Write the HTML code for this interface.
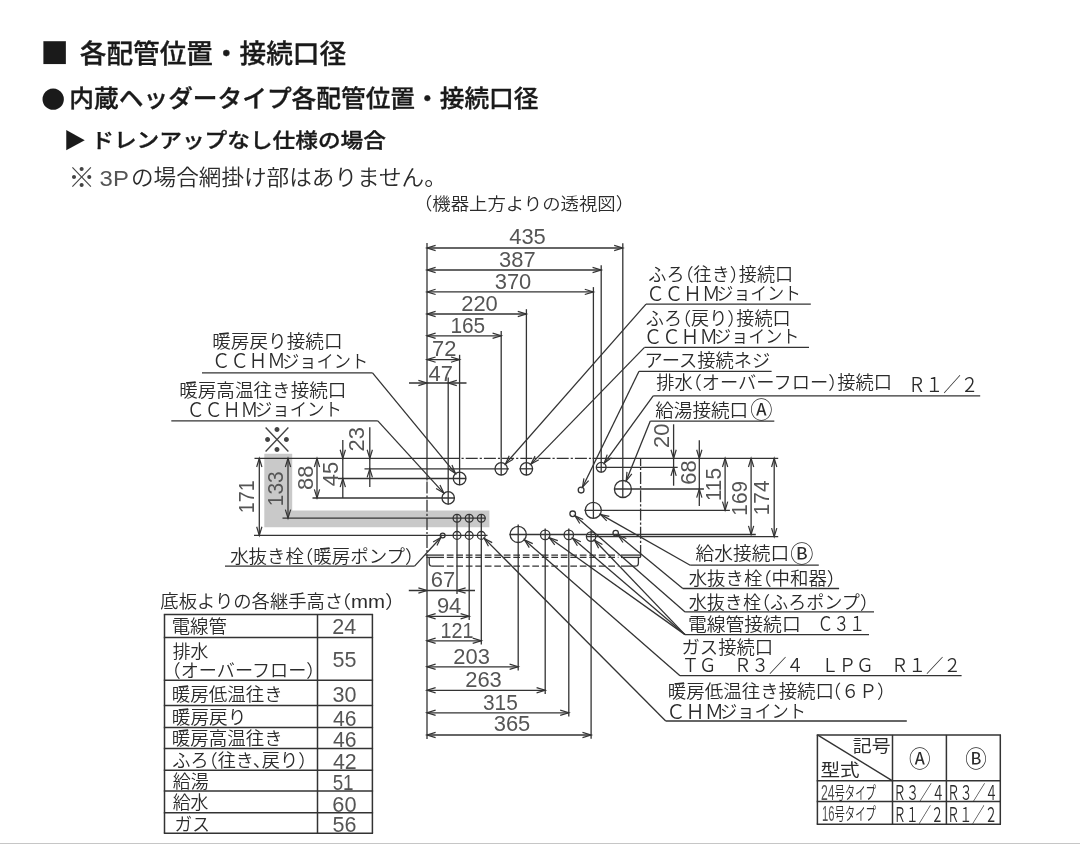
<!DOCTYPE html>
<html lang="ja">
<head>
<meta charset="utf-8">
<title>各配管位置・接続口径</title>
<style>
html,body{margin:0;padding:0;background:#fff;}
body{width:1080px;height:844px;overflow:hidden;position:relative;font-family:"Liberation Sans","Noto Sans CJK JP",sans-serif;}
svg{display:block;position:absolute;left:0;top:0;will-change:transform;}
svg text{font-family:"Liberation Sans","Noto Sans CJK JP",sans-serif;fill:#2b2b2b;stroke:none;white-space:pre;}
svg text.h{font-weight:500;fill:#1a1a1a;stroke:#1a1a1a;stroke-width:0.35px;stroke-linejoin:round;}
svg text.h0{font-weight:500;fill:#1a1a1a;}
svg text.l{font-weight:350;font-feature-settings:"halt";}
svg text.t{font-weight:100;fill:#444;}
svg text.r{font-weight:400;}
svg text.n{font-weight:400;fill:#555;}
svg .g{fill:none;stroke:#333;stroke-linecap:butt;stroke-linejoin:miter;}
</style>
</head>
<body>
<svg width="1080" height="844" viewBox="0 0 1080 844">
<path d="M264.3 453.8H292.2V510.4H489.4V527.2H264.3Z" fill="#c9c9c9"/>
<rect x="0" y="843" width="1080" height="1" fill="#c6c6c6"/>
<text x="40.41" y="67.19" class="h0" font-size="47.3" textLength="28.11" lengthAdjust="spacingAndGlyphs">■</text>
<text x="79.80" y="63.26" class="h" font-size="26.4" textLength="266.23" lengthAdjust="spacingAndGlyphs">各配管位置・接続口径</text>
<text x="38.22" y="112.74" class="h0" font-size="49.6" textLength="30.06" lengthAdjust="spacingAndGlyphs">●</text>
<text x="69.38" y="107.44" class="h" font-size="24.4" textLength="469.12" lengthAdjust="spacingAndGlyphs">内蔵ヘッダータイプ各配管位置・接続口径</text>
<text x="63.47" y="148.11" class="h0" font-size="21.6" textLength="22.72" lengthAdjust="spacingAndGlyphs">▶</text>
<text x="91.23" y="148.22" class="h" font-size="20.7" textLength="294.73" lengthAdjust="spacingAndGlyphs">ドレンアップなし仕様の場合</text>
<text x="68.25" y="186.91" class="t" font-size="26.6" textLength="26.81" lengthAdjust="spacingAndGlyphs">※</text>
<text x="99.64" y="185.76" class="n" font-size="22.2" textLength="29.23" lengthAdjust="spacingAndGlyphs">3P</text>
<text x="130.97" y="185.41" class="l" font-size="21.9" textLength="304.53" lengthAdjust="spacingAndGlyphs">の場合網掛け部はありません。</text>
<text x="423.13" y="210.18" class="l" font-size="17.4" textLength="201.75" lengthAdjust="spacingAndGlyphs">（機器上方よりの透視図）</text>
<g class="g">
<line x1="459.50" y1="458.40" x2="592.50" y2="458.40" stroke-width="1.3" stroke-dasharray="12 2 2.2 2" stroke-dashoffset="12"/>
<line x1="427.00" y1="481.50" x2="427.00" y2="555.10" stroke-width="1.3" stroke-dasharray="12 2 2.2 2"/>
<line x1="640.60" y1="458.40" x2="640.60" y2="557.00" stroke-width="1.3" stroke-dasharray="12 2 2.2 2" stroke-dashoffset="4.5"/>
<line x1="425.50" y1="555.10" x2="444.00" y2="555.10" stroke-width="1.3"/>
<line x1="446.80" y1="555.10" x2="618.50" y2="555.10" stroke-width="1.3" stroke-dasharray="6.7 2.8"/>
<line x1="621.00" y1="555.10" x2="641.20" y2="555.10" stroke-width="1.3"/>
<line x1="426.30" y1="557.40" x2="444.00" y2="557.40" stroke-width="1.3"/>
<line x1="446.80" y1="557.40" x2="618.50" y2="557.40" stroke-width="1.3" stroke-dasharray="6.7 2.8"/>
<line x1="621.00" y1="557.40" x2="640.80" y2="557.40" stroke-width="1.3"/>
<path d="M429.2 557.4V562.9Q429.2 566.1 432.4 566.1H444" stroke-width="1.3"/>
<path d="M638.4 557.4V562.9Q638.4 566.1 635.2 566.1H621" stroke-width="1.3"/>
<line x1="446.80" y1="566.10" x2="618.50" y2="566.10" stroke-width="1.3" stroke-dasharray="6.7 2.8"/>
<circle cx="459.60" cy="478.50" r="6.30" stroke-width="1.3"/>
<circle cx="448.20" cy="497.90" r="6.20" stroke-width="1.3"/>
<circle cx="501.20" cy="468.80" r="6.20" stroke-width="1.3"/>
<circle cx="526.40" cy="468.80" r="6.20" stroke-width="1.3"/>
<circle cx="601.20" cy="467.30" r="4.90" stroke-width="1.3"/>
<circle cx="581.10" cy="490.10" r="2.90" stroke-width="1.3"/>
<circle cx="622.90" cy="489.00" r="8.50" stroke-width="1.3"/>
<circle cx="593.30" cy="510.30" r="8.00" stroke-width="1.3"/>
<circle cx="572.70" cy="513.80" r="2.80" stroke-width="1.3"/>
<circle cx="615.70" cy="533.10" r="2.70" stroke-width="1.3"/>
<circle cx="442.70" cy="535.50" r="2.40" stroke-width="1.3"/>
<circle cx="457.00" cy="518.20" r="3.90" stroke-width="1.3"/>
<circle cx="469.20" cy="518.20" r="3.90" stroke-width="1.3"/>
<circle cx="481.30" cy="518.20" r="3.90" stroke-width="1.3"/>
<circle cx="457.00" cy="535.40" r="3.90" stroke-width="1.3"/>
<circle cx="469.20" cy="535.40" r="3.90" stroke-width="1.3"/>
<circle cx="481.30" cy="535.40" r="3.90" stroke-width="1.3"/>
<circle cx="518.20" cy="534.40" r="8.10" stroke-width="1.3"/>
<circle cx="545.20" cy="534.90" r="4.70" stroke-width="1.3"/>
<circle cx="568.80" cy="534.90" r="4.70" stroke-width="1.3"/>
<circle cx="591.10" cy="536.60" r="4.70" stroke-width="1.3"/>
<line x1="427.00" y1="243.00" x2="427.00" y2="480.50" stroke-width="1.3"/>
<line x1="427.00" y1="248.00" x2="622.80" y2="248.00" stroke-width="1.3"/>
<polyline points="435.61,245.37 427.00,248.00 435.61,250.63" stroke-width="1.2"/>
<polyline points="614.19,250.63 622.80,248.00 614.19,245.37" stroke-width="1.2"/>
<line x1="622.80" y1="243.20" x2="622.80" y2="497.60" stroke-width="1.3"/>
<line x1="427.00" y1="270.00" x2="601.20" y2="270.00" stroke-width="1.3"/>
<polyline points="435.61,267.37 427.00,270.00 435.61,272.63" stroke-width="1.2"/>
<polyline points="592.59,272.63 601.20,270.00 592.59,267.37" stroke-width="1.2"/>
<line x1="601.20" y1="265.20" x2="601.20" y2="472.50" stroke-width="1.3"/>
<line x1="427.00" y1="291.90" x2="593.40" y2="291.90" stroke-width="1.3"/>
<polyline points="435.61,289.27 427.00,291.90 435.61,294.53" stroke-width="1.2"/>
<polyline points="584.79,294.53 593.40,291.90 584.79,289.27" stroke-width="1.2"/>
<line x1="593.40" y1="287.10" x2="593.40" y2="518.50" stroke-width="1.3"/>
<line x1="427.00" y1="314.00" x2="526.40" y2="314.00" stroke-width="1.3"/>
<polyline points="435.61,311.37 427.00,314.00 435.61,316.63" stroke-width="1.2"/>
<polyline points="517.79,316.63 526.40,314.00 517.79,311.37" stroke-width="1.2"/>
<line x1="526.40" y1="309.20" x2="526.40" y2="475.30" stroke-width="1.3"/>
<line x1="427.00" y1="335.80" x2="501.20" y2="335.80" stroke-width="1.3"/>
<polyline points="435.61,333.17 427.00,335.80 435.61,338.43" stroke-width="1.2"/>
<polyline points="492.59,338.43 501.20,335.80 492.59,333.17" stroke-width="1.2"/>
<line x1="501.20" y1="331.00" x2="501.20" y2="475.30" stroke-width="1.3"/>
<line x1="427.00" y1="359.60" x2="459.60" y2="359.60" stroke-width="1.3"/>
<polyline points="435.61,356.97 427.00,359.60 435.61,362.23" stroke-width="1.2"/>
<polyline points="450.99,362.23 459.60,359.60 450.99,356.97" stroke-width="1.2"/>
<line x1="459.60" y1="354.80" x2="459.60" y2="485.20" stroke-width="1.3"/>
<line x1="409.00" y1="383.00" x2="466.50" y2="383.00" stroke-width="1.3"/>
<polyline points="418.39,385.63 427.00,383.00 418.39,380.37" stroke-width="1.2"/>
<polyline points="456.81,380.37 448.20,383.00 456.81,385.63" stroke-width="1.2"/>
<line x1="448.20" y1="377.50" x2="448.20" y2="504.40" stroke-width="1.3"/>
<line x1="427.00" y1="555.10" x2="427.00" y2="739.00" stroke-width="1.3"/>
<line x1="427.00" y1="616.30" x2="469.20" y2="616.30" stroke-width="1.3"/>
<polyline points="435.61,613.67 427.00,616.30 435.61,618.93" stroke-width="1.2"/>
<polyline points="460.59,618.93 469.20,616.30 460.59,613.67" stroke-width="1.2"/>
<line x1="469.20" y1="514.00" x2="469.20" y2="620.10" stroke-width="1.3"/>
<line x1="427.00" y1="640.80" x2="481.30" y2="640.80" stroke-width="1.3"/>
<polyline points="435.61,638.17 427.00,640.80 435.61,643.43" stroke-width="1.2"/>
<polyline points="472.69,643.43 481.30,640.80 472.69,638.17" stroke-width="1.2"/>
<line x1="481.30" y1="514.00" x2="481.30" y2="644.60" stroke-width="1.3"/>
<line x1="427.00" y1="666.80" x2="518.20" y2="666.80" stroke-width="1.3"/>
<polyline points="435.61,664.17 427.00,666.80 435.61,669.43" stroke-width="1.2"/>
<polyline points="509.59,669.43 518.20,666.80 509.59,664.17" stroke-width="1.2"/>
<line x1="518.20" y1="524.50" x2="518.20" y2="670.60" stroke-width="1.3"/>
<line x1="427.00" y1="690.30" x2="545.20" y2="690.30" stroke-width="1.3"/>
<polyline points="435.61,687.67 427.00,690.30 435.61,692.93" stroke-width="1.2"/>
<polyline points="536.59,692.93 545.20,690.30 536.59,687.67" stroke-width="1.2"/>
<line x1="545.20" y1="528.50" x2="545.20" y2="694.10" stroke-width="1.3"/>
<line x1="427.00" y1="712.80" x2="568.80" y2="712.80" stroke-width="1.3"/>
<polyline points="435.61,710.17 427.00,712.80 435.61,715.43" stroke-width="1.2"/>
<polyline points="560.19,715.43 568.80,712.80 560.19,710.17" stroke-width="1.2"/>
<line x1="568.80" y1="528.50" x2="568.80" y2="716.60" stroke-width="1.3"/>
<line x1="427.00" y1="735.00" x2="591.10" y2="735.00" stroke-width="1.3"/>
<polyline points="435.61,732.37 427.00,735.00 435.61,737.63" stroke-width="1.2"/>
<polyline points="582.49,737.63 591.10,735.00 582.49,732.37" stroke-width="1.2"/>
<line x1="591.10" y1="530.50" x2="591.10" y2="738.80" stroke-width="1.3"/>
<line x1="408.80" y1="590.50" x2="475.00" y2="590.50" stroke-width="1.3"/>
<polyline points="418.39,593.13 427.00,590.50 418.39,587.87" stroke-width="1.2"/>
<polyline points="465.61,587.87 457.00,590.50 465.61,593.13" stroke-width="1.2"/>
<line x1="457.00" y1="514.00" x2="457.00" y2="594.00" stroke-width="1.3"/>
<line x1="254.50" y1="458.40" x2="459.50" y2="458.40" stroke-width="1.3"/>
<line x1="259.30" y1="458.40" x2="259.30" y2="535.40" stroke-width="1.3"/>
<polyline points="261.93,467.01 259.30,458.40 256.67,467.01" stroke-width="1.2"/>
<polyline points="256.67,526.79 259.30,535.40 261.93,526.79" stroke-width="1.2"/>
<line x1="254.00" y1="535.40" x2="487.50" y2="535.40" stroke-width="1.3"/>
<line x1="288.00" y1="458.40" x2="288.00" y2="518.20" stroke-width="1.3"/>
<polyline points="290.63,467.01 288.00,458.40 285.37,467.01" stroke-width="1.2"/>
<polyline points="285.37,509.59 288.00,518.20 290.63,509.59" stroke-width="1.2"/>
<line x1="282.50" y1="518.20" x2="485.50" y2="518.20" stroke-width="1.3"/>
<line x1="317.00" y1="458.40" x2="317.00" y2="498.00" stroke-width="1.3"/>
<polyline points="319.63,467.01 317.00,458.40 314.37,467.01" stroke-width="1.2"/>
<polyline points="314.37,489.39 317.00,498.00 319.63,489.39" stroke-width="1.2"/>
<line x1="312.50" y1="498.00" x2="454.60" y2="498.00" stroke-width="1.3"/>
<line x1="342.80" y1="440.00" x2="342.80" y2="498.00" stroke-width="1.3"/>
<polyline points="340.17,449.79 342.80,458.40 345.43,449.79" stroke-width="1.2"/>
<polyline points="345.43,487.11 342.80,478.50 340.17,487.11" stroke-width="1.2"/>
<line x1="338.00" y1="478.50" x2="466.20" y2="478.50" stroke-width="1.3"/>
<line x1="369.80" y1="427.30" x2="369.80" y2="487.00" stroke-width="1.3"/>
<polyline points="367.17,449.79 369.80,458.40 372.43,449.79" stroke-width="1.2"/>
<polyline points="372.43,477.41 369.80,468.80 367.17,477.41" stroke-width="1.2"/>
<line x1="364.50" y1="468.80" x2="509.00" y2="468.80" stroke-width="1.3"/>
<line x1="519.60" y1="468.80" x2="533.00" y2="468.80" stroke-width="1.3"/>
<line x1="592.50" y1="458.40" x2="778.20" y2="458.40" stroke-width="1.3"/>
<line x1="673.60" y1="424.30" x2="673.60" y2="485.70" stroke-width="1.3"/>
<polyline points="670.97,449.79 673.60,458.40 676.23,449.79" stroke-width="1.2"/>
<polyline points="676.23,475.91 673.60,467.30 670.97,475.91" stroke-width="1.2"/>
<line x1="596.00" y1="467.30" x2="677.70" y2="467.30" stroke-width="1.3"/>
<line x1="699.30" y1="440.20" x2="699.30" y2="506.00" stroke-width="1.3"/>
<polyline points="696.67,449.79 699.30,458.40 701.93,449.79" stroke-width="1.2"/>
<polyline points="701.93,497.61 699.30,489.00 696.67,497.61" stroke-width="1.2"/>
<line x1="614.00" y1="489.00" x2="703.90" y2="489.00" stroke-width="1.3"/>
<line x1="725.10" y1="458.40" x2="725.10" y2="510.30" stroke-width="1.3"/>
<polyline points="727.73,467.01 725.10,458.40 722.47,467.01" stroke-width="1.2"/>
<polyline points="722.47,501.69 725.10,510.30 727.73,501.69" stroke-width="1.2"/>
<line x1="584.50" y1="510.30" x2="729.90" y2="510.30" stroke-width="1.3"/>
<line x1="751.10" y1="458.40" x2="751.10" y2="534.50" stroke-width="1.3"/>
<polyline points="753.73,467.01 751.10,458.40 748.47,467.01" stroke-width="1.2"/>
<polyline points="748.47,525.89 751.10,534.50 753.73,525.89" stroke-width="1.2"/>
<line x1="509.50" y1="534.50" x2="755.80" y2="534.50" stroke-width="1.3"/>
<line x1="774.20" y1="458.40" x2="774.20" y2="536.80" stroke-width="1.3"/>
<polyline points="776.83,467.01 774.20,458.40 771.57,467.01" stroke-width="1.2"/>
<polyline points="771.57,528.19 774.20,536.80 776.83,528.19" stroke-width="1.2"/>
<line x1="586.00" y1="536.70" x2="778.20" y2="536.70" stroke-width="1.3"/>
<line x1="202.00" y1="372.80" x2="372.50" y2="372.80" stroke-width="1.3"/>
<line x1="372.50" y1="372.80" x2="455.40" y2="473.41" stroke-width="1.3"/>
<polyline points="447.90,468.44 455.40,473.41 451.96,465.09" stroke-width="1.2"/>
<line x1="171.30" y1="420.90" x2="377.80" y2="420.90" stroke-width="1.3"/>
<line x1="377.80" y1="420.90" x2="443.81" y2="493.10" stroke-width="1.3"/>
<polyline points="436.06,488.53 443.81,493.10 439.95,484.98" stroke-width="1.2"/>
<line x1="225.00" y1="566.10" x2="414.60" y2="566.10" stroke-width="1.3"/>
<line x1="414.60" y1="566.10" x2="440.87" y2="537.49" stroke-width="1.3"/>
<polyline points="436.99,545.61 440.87,537.49 433.11,542.05" stroke-width="1.2"/>
<line x1="646.00" y1="304.10" x2="810.80" y2="304.10" stroke-width="1.3"/>
<line x1="646.00" y1="304.10" x2="505.49" y2="463.92" stroke-width="1.3"/>
<polyline points="509.20,455.72 505.49,463.92 513.15,459.19" stroke-width="1.2"/>
<line x1="644.50" y1="347.40" x2="809.00" y2="347.40" stroke-width="1.3"/>
<line x1="644.50" y1="347.40" x2="530.93" y2="464.14" stroke-width="1.3"/>
<polyline points="535.05,456.14 530.93,464.14 538.82,459.81" stroke-width="1.2"/>
<line x1="639.00" y1="371.30" x2="771.60" y2="371.30" stroke-width="1.3"/>
<line x1="639.00" y1="371.30" x2="582.50" y2="487.22" stroke-width="1.3"/>
<polyline points="583.91,478.33 582.50,487.22 588.64,480.64" stroke-width="1.2"/>
<line x1="653.20" y1="395.80" x2="980.20" y2="395.80" stroke-width="1.3"/>
<line x1="653.20" y1="395.80" x2="604.26" y2="463.09" stroke-width="1.3"/>
<polyline points="607.19,454.59 604.26,463.09 611.45,457.68" stroke-width="1.2"/>
<line x1="650.30" y1="421.10" x2="774.30" y2="421.10" stroke-width="1.3"/>
<line x1="650.30" y1="421.10" x2="626.19" y2="480.84" stroke-width="1.3"/>
<polyline points="626.97,471.87 626.19,480.84 631.85,473.84" stroke-width="1.2"/>
<line x1="690.20" y1="565.20" x2="818.80" y2="565.20" stroke-width="1.3"/>
<line x1="690.20" y1="565.20" x2="600.52" y2="514.39" stroke-width="1.3"/>
<polyline points="609.31,516.34 600.52,514.39 606.71,520.92" stroke-width="1.2"/>
<line x1="682.80" y1="588.50" x2="839.10" y2="588.50" stroke-width="1.3"/>
<line x1="682.80" y1="588.50" x2="618.01" y2="535.01" stroke-width="1.3"/>
<polyline points="626.33,538.46 618.01,535.01 622.98,542.52" stroke-width="1.2"/>
<line x1="685.10" y1="611.90" x2="874.00" y2="611.90" stroke-width="1.3"/>
<line x1="685.10" y1="611.90" x2="575.04" y2="515.84" stroke-width="1.3"/>
<polyline points="583.25,519.52 575.04,515.84 579.79,523.48" stroke-width="1.2"/>
<line x1="685.00" y1="634.60" x2="869.00" y2="634.60" stroke-width="1.3"/>
<line x1="685.00" y1="634.60" x2="549.27" y2="537.80" stroke-width="1.3"/>
<polyline points="557.81,540.66 549.27,537.80 554.75,544.94" stroke-width="1.2"/>
<line x1="685.00" y1="634.60" x2="685.00" y2="634.60" stroke-width="1.3"/>
<line x1="685.00" y1="634.60" x2="572.59" y2="538.16" stroke-width="1.3"/>
<polyline points="580.84,541.76 572.59,538.16 577.41,545.76" stroke-width="1.2"/>
<line x1="685.00" y1="634.60" x2="685.00" y2="634.60" stroke-width="1.3"/>
<line x1="685.00" y1="634.60" x2="594.56" y2="540.21" stroke-width="1.3"/>
<polyline points="602.41,544.60 594.56,540.21 598.61,548.25" stroke-width="1.2"/>
<line x1="680.00" y1="675.70" x2="961.60" y2="675.70" stroke-width="1.3"/>
<line x1="680.00" y1="675.70" x2="524.53" y2="539.93" stroke-width="1.3"/>
<polyline points="532.74,543.60 524.53,539.93 529.28,547.57" stroke-width="1.2"/>
<line x1="665.70" y1="721.00" x2="906.80" y2="721.00" stroke-width="1.3"/>
<line x1="665.70" y1="721.00" x2="484.26" y2="538.38" stroke-width="1.3"/>
<polyline points="492.19,542.63 484.26,538.38 488.46,546.34" stroke-width="1.2"/>
<line x1="163.80" y1="614.50" x2="373.10" y2="614.50" stroke-width="1.5"/>
<line x1="163.80" y1="637.50" x2="373.10" y2="637.50" stroke-width="1.5"/>
<line x1="163.80" y1="680.20" x2="373.10" y2="680.20" stroke-width="1.5"/>
<line x1="163.80" y1="705.40" x2="373.10" y2="705.40" stroke-width="1.5"/>
<line x1="163.80" y1="727.50" x2="373.10" y2="727.50" stroke-width="1.5"/>
<line x1="163.80" y1="748.60" x2="373.10" y2="748.60" stroke-width="1.5"/>
<line x1="163.80" y1="770.30" x2="373.10" y2="770.30" stroke-width="1.5"/>
<line x1="163.80" y1="791.00" x2="373.10" y2="791.00" stroke-width="1.5"/>
<line x1="163.80" y1="812.80" x2="373.10" y2="812.80" stroke-width="1.5"/>
<line x1="163.80" y1="833.20" x2="373.10" y2="833.20" stroke-width="1.5"/>
<line x1="164.50" y1="614.50" x2="164.50" y2="833.20" stroke-width="1.5"/>
<line x1="317.50" y1="614.50" x2="317.50" y2="833.20" stroke-width="1.5"/>
<line x1="372.40" y1="614.50" x2="372.40" y2="833.20" stroke-width="1.5"/>
<line x1="816.70" y1="734.90" x2="1001.00" y2="734.90" stroke-width="1.5"/>
<line x1="816.70" y1="780.80" x2="1001.00" y2="780.80" stroke-width="1.5"/>
<line x1="816.70" y1="801.50" x2="1001.00" y2="801.50" stroke-width="1.5"/>
<line x1="816.70" y1="824.30" x2="1001.00" y2="824.30" stroke-width="1.5"/>
<line x1="817.40" y1="734.90" x2="817.40" y2="824.30" stroke-width="1.5"/>
<line x1="892.50" y1="734.90" x2="892.50" y2="824.30" stroke-width="1.5"/>
<line x1="946.40" y1="734.90" x2="946.40" y2="824.30" stroke-width="1.5"/>
<line x1="1000.30" y1="734.90" x2="1000.30" y2="824.30" stroke-width="1.5"/>
<line x1="817.40" y1="734.90" x2="892.50" y2="780.80" stroke-width="1.4"/>
</g>
<text x="527.50" y="244.30" class="n" font-size="21.6" textLength="36.60" lengthAdjust="spacingAndGlyphs" text-anchor="middle">435</text>
<text x="517.30" y="266.50" class="n" font-size="21.6" textLength="36.60" lengthAdjust="spacingAndGlyphs" text-anchor="middle">387</text>
<text x="513.00" y="288.60" class="n" font-size="21.6" textLength="36.60" lengthAdjust="spacingAndGlyphs" text-anchor="middle">370</text>
<text x="479.50" y="310.70" class="n" font-size="21.6" textLength="36.60" lengthAdjust="spacingAndGlyphs" text-anchor="middle">220</text>
<text x="467.80" y="332.50" class="n" font-size="21.6" textLength="34.80" lengthAdjust="spacingAndGlyphs" text-anchor="middle">165</text>
<text x="444.20" y="356.00" class="n" font-size="21.6" textLength="24.40" lengthAdjust="spacingAndGlyphs" text-anchor="middle">72</text>
<text x="440.80" y="380.60" class="n" font-size="21.6" textLength="24.40" lengthAdjust="spacingAndGlyphs" text-anchor="middle">47</text>
<text x="442.90" y="587.00" class="n" font-size="21.6" textLength="24.40" lengthAdjust="spacingAndGlyphs" text-anchor="middle">67</text>
<text x="449.10" y="613.00" class="n" font-size="21.6" textLength="24.40" lengthAdjust="spacingAndGlyphs" text-anchor="middle">94</text>
<text x="456.90" y="637.80" class="n" font-size="21.6" textLength="33.00" lengthAdjust="spacingAndGlyphs" text-anchor="middle">121</text>
<text x="471.60" y="663.80" class="n" font-size="21.6" textLength="36.60" lengthAdjust="spacingAndGlyphs" text-anchor="middle">203</text>
<text x="483.50" y="687.00" class="n" font-size="21.6" textLength="36.60" lengthAdjust="spacingAndGlyphs" text-anchor="middle">263</text>
<text x="500.40" y="709.50" class="n" font-size="21.6" textLength="34.80" lengthAdjust="spacingAndGlyphs" text-anchor="middle">315</text>
<text x="512.00" y="731.40" class="n" font-size="21.6" textLength="36.60" lengthAdjust="spacingAndGlyphs" text-anchor="middle">365</text>
<text class="n" font-size="21.6" textLength="33.00" lengthAdjust="spacingAndGlyphs" text-anchor="middle" transform="translate(254.30 496.80) rotate(-90)">171</text>
<text class="n" font-size="21.6" textLength="34.80" lengthAdjust="spacingAndGlyphs" text-anchor="middle" transform="translate(283.00 488.80) rotate(-90)">133</text>
<text class="n" font-size="21.6" textLength="24.40" lengthAdjust="spacingAndGlyphs" text-anchor="middle" transform="translate(313.00 477.80) rotate(-90)">88</text>
<text class="n" font-size="21.6" textLength="24.40" lengthAdjust="spacingAndGlyphs" text-anchor="middle" transform="translate(338.00 474.00) rotate(-90)">45</text>
<text class="n" font-size="21.6" textLength="24.40" lengthAdjust="spacingAndGlyphs" text-anchor="middle" transform="translate(364.30 439.30) rotate(-90)">23</text>
<text class="n" font-size="21.6" textLength="24.40" lengthAdjust="spacingAndGlyphs" text-anchor="middle" transform="translate(669.20 435.80) rotate(-90)">20</text>
<text class="n" font-size="21.6" textLength="24.40" lengthAdjust="spacingAndGlyphs" text-anchor="middle" transform="translate(695.70 472.50) rotate(-90)">68</text>
<text class="n" font-size="21.6" textLength="33.00" lengthAdjust="spacingAndGlyphs" text-anchor="middle" transform="translate(721.30 484.60) rotate(-90)">115</text>
<text class="n" font-size="21.6" textLength="34.80" lengthAdjust="spacingAndGlyphs" text-anchor="middle" transform="translate(746.90 498.30) rotate(-90)">169</text>
<text class="n" font-size="21.6" textLength="34.80" lengthAdjust="spacingAndGlyphs" text-anchor="middle" transform="translate(768.90 497.90) rotate(-90)">174</text>
<text x="276.90" y="451.80" class="t" font-size="33" text-anchor="middle">※</text>
<text x="212.21" y="348.34" class="l" font-size="18.0" textLength="130.31" lengthAdjust="spacingAndGlyphs">暖房戻り接続口</text>
<text x="212.01" y="368.35" class="l" font-size="19.6" textLength="73.74" lengthAdjust="spacingAndGlyphs">ＣＣＨＭ</text>
<text x="281.98" y="367.52" class="l" font-size="18.0" textLength="86.18" lengthAdjust="spacingAndGlyphs">ジョイント</text>
<text x="179.21" y="396.99" class="l" font-size="18.0" textLength="167.20" lengthAdjust="spacingAndGlyphs">暖房高温往き接続口</text>
<text x="186.82" y="417.00" class="l" font-size="19.6" textLength="71.65" lengthAdjust="spacingAndGlyphs">ＣＣＨＭ</text>
<text x="254.76" y="416.17" class="l" font-size="18.0" textLength="87.24" lengthAdjust="spacingAndGlyphs">ジョイント</text>
<text x="230.16" y="562.70" class="l" font-size="18.0" textLength="184.13" lengthAdjust="spacingAndGlyphs">水抜き栓（暖房ポンプ）</text>
<text x="160.35" y="607.79" class="l" font-size="18.0" textLength="182.81" lengthAdjust="spacingAndGlyphs">底板よりの各継手高さ</text>
<text x="340.92" y="608.05" class="l" font-size="18.0" textLength="54.38" lengthAdjust="spacingAndGlyphs">（mm）</text>
<text x="648.29" y="281.35" class="l" font-size="18.0" textLength="144.86" lengthAdjust="spacingAndGlyphs">ふろ（往き）接続口</text>
<text x="646.29" y="300.95" class="l" font-size="19.6" textLength="74.18" lengthAdjust="spacingAndGlyphs">ＣＣＨＭ</text>
<text x="716.61" y="299.97" class="l" font-size="18.0" textLength="84.39" lengthAdjust="spacingAndGlyphs">ジョイント</text>
<text x="645.79" y="324.65" class="l" font-size="18.0" textLength="144.86" lengthAdjust="spacingAndGlyphs">ふろ（戻り）接続口</text>
<text x="643.79" y="344.15" class="l" font-size="19.6" textLength="74.18" lengthAdjust="spacingAndGlyphs">ＣＣＨＭ</text>
<text x="714.09" y="343.17" class="l" font-size="18.0" textLength="85.34" lengthAdjust="spacingAndGlyphs">ジョイント</text>
<text x="644.51" y="367.24" class="l" font-size="18.0" textLength="125.79" lengthAdjust="spacingAndGlyphs">アース接続ネジ</text>
<text x="656.15" y="389.25" class="l" font-size="18.0" textLength="235.92" lengthAdjust="spacingAndGlyphs">排水（オーバーフロー）接続口</text>
<text x="908.02" y="391.55" class="l" font-size="19.6" textLength="70.40" lengthAdjust="spacingAndGlyphs">Ｒ１／２</text>
<text x="655.24" y="416.84" class="l" font-size="18.0" textLength="92.98" lengthAdjust="spacingAndGlyphs">給湯接続口</text>
<text x="750.13" y="417.51" class="r" font-size="22.4" textLength="22.23" lengthAdjust="spacingAndGlyphs">Ⓐ</text>
<text x="695.64" y="560.24" class="l" font-size="18.0" textLength="93.49" lengthAdjust="spacingAndGlyphs">給水接続口</text>
<text x="790.30" y="562.42" class="r" font-size="23.2" textLength="23.19" lengthAdjust="spacingAndGlyphs">Ⓑ</text>
<text x="688.66" y="585.15" class="l" font-size="18.0" textLength="147.42" lengthAdjust="spacingAndGlyphs">水抜き栓（中和器）</text>
<text x="688.68" y="608.50" class="l" font-size="18.0" textLength="180.34" lengthAdjust="spacingAndGlyphs">水抜き栓（ふろポンプ）</text>
<text x="687.90" y="630.54" class="l" font-size="18.0" textLength="112.85" lengthAdjust="spacingAndGlyphs">電線管接続口</text>
<text x="817.52" y="631.35" class="l" font-size="19.6" textLength="47.63" lengthAdjust="spacingAndGlyphs">Ｃ３１</text>
<text x="681.47" y="653.54" class="l" font-size="18.0" textLength="91.72" lengthAdjust="spacingAndGlyphs">ガス接続口</text>
<text x="681.68" y="672.27" class="l" font-size="18.6" textLength="279.20" lengthAdjust="spacingAndGlyphs">ＴＧ　Ｒ３／４　ＬＰＧ　Ｒ１／２</text>
<text x="667.72" y="698.09" class="l" font-size="18.0" textLength="166.38" lengthAdjust="spacingAndGlyphs">暖房低温往き接続口</text>
<text x="832.21" y="698.30" class="l" font-size="18.4" textLength="53.88" lengthAdjust="spacingAndGlyphs">（６Ｐ）</text>
<text x="666.15" y="718.65" class="l" font-size="19.6" textLength="57.73" lengthAdjust="spacingAndGlyphs">ＣＨＭ</text>
<text x="719.98" y="717.77" class="l" font-size="18.0" textLength="86.08" lengthAdjust="spacingAndGlyphs">ジョイント</text>
<text x="171.73" y="633.49" class="l" font-size="18.0" textLength="55.21" lengthAdjust="spacingAndGlyphs">電線管</text>
<text x="172.66" y="657.54" class="l" font-size="18.0" textLength="35.77" lengthAdjust="spacingAndGlyphs">排水</text>
<text x="171.67" y="677.40" class="l" font-size="18.0" textLength="143.75" lengthAdjust="spacingAndGlyphs">（オーバーフロー）</text>
<text x="171.72" y="700.80" class="l" font-size="18.0" textLength="111.07" lengthAdjust="spacingAndGlyphs">暖房低温往き</text>
<text x="171.71" y="724.05" class="l" font-size="18.0" textLength="74.72" lengthAdjust="spacingAndGlyphs">暖房戻り</text>
<text x="171.72" y="745.15" class="l" font-size="18.0" textLength="111.07" lengthAdjust="spacingAndGlyphs">暖房高温往き</text>
<text x="172.29" y="767.00" class="l" font-size="18.0" textLength="134.94" lengthAdjust="spacingAndGlyphs">ふろ（往き、戻り）</text>
<text x="172.66" y="788.40" class="l" font-size="18.0" textLength="35.96" lengthAdjust="spacingAndGlyphs">給湯</text>
<text x="172.66" y="809.25" class="l" font-size="18.0" textLength="35.77" lengthAdjust="spacingAndGlyphs">給水</text>
<text x="174.53" y="831.42" class="l" font-size="18.0" textLength="35.31" lengthAdjust="spacingAndGlyphs">ガス</text>
<text x="332.32" y="634.29" class="n" font-size="21.4" textLength="23.97" lengthAdjust="spacingAndGlyphs">24</text>
<text x="332.54" y="667.18" class="n" font-size="21.4" textLength="23.97" lengthAdjust="spacingAndGlyphs">55</text>
<text x="332.54" y="701.88" class="n" font-size="21.4" textLength="23.97" lengthAdjust="spacingAndGlyphs">30</text>
<text x="332.98" y="725.88" class="n" font-size="21.4" textLength="23.52" lengthAdjust="spacingAndGlyphs">46</text>
<text x="332.98" y="747.18" class="n" font-size="21.4" textLength="23.52" lengthAdjust="spacingAndGlyphs">46</text>
<text x="332.97" y="768.69" class="n" font-size="21.4" textLength="23.74" lengthAdjust="spacingAndGlyphs">42</text>
<text x="332.65" y="789.88" class="n" font-size="21.4" textLength="20.94" lengthAdjust="spacingAndGlyphs">51</text>
<text x="332.31" y="812.38" class="n" font-size="21.4" textLength="24.21" lengthAdjust="spacingAndGlyphs">60</text>
<text x="332.54" y="831.78" class="n" font-size="21.4" textLength="23.97" lengthAdjust="spacingAndGlyphs">56</text>
<text x="852.74" y="752.29" class="r" font-size="17.2" textLength="37.80" lengthAdjust="spacingAndGlyphs">記号</text>
<text x="820.52" y="775.60" class="r" font-size="17.6" textLength="39.17" lengthAdjust="spacingAndGlyphs">型式</text>
<text x="909.05" y="767.01" class="r" font-size="22.4" textLength="21.60" lengthAdjust="spacingAndGlyphs">Ⓐ</text>
<text x="965.16" y="767.01" class="r" font-size="22.4" textLength="21.49" lengthAdjust="spacingAndGlyphs">Ⓑ</text>
<text x="820.89" y="800.09" class="n" font-size="21.4" textLength="13.61" lengthAdjust="spacingAndGlyphs">24</text>
<text x="834.48" y="798.81" class="l" font-size="17.2" textLength="41.42" lengthAdjust="spacingAndGlyphs">号タイプ</text>
<text x="822.10" y="821.23" class="n" font-size="21.4" textLength="12.47" lengthAdjust="spacingAndGlyphs">16</text>
<text x="834.48" y="820.11" class="l" font-size="17.2" textLength="41.42" lengthAdjust="spacingAndGlyphs">号タイプ</text>
<text x="893.37" y="800.25" class="l" font-size="20.4" textLength="51.22" lengthAdjust="spacingAndGlyphs">Ｒ３／４</text>
<text x="946.89" y="800.25" class="l" font-size="20.4" textLength="50.99" lengthAdjust="spacingAndGlyphs">Ｒ３／４</text>
<text x="893.44" y="821.50" class="l" font-size="20.4" textLength="50.17" lengthAdjust="spacingAndGlyphs">Ｒ１／２</text>
<text x="946.92" y="821.50" class="l" font-size="20.4" textLength="50.40" lengthAdjust="spacingAndGlyphs">Ｒ１／２</text>
</svg>
</body>
</html>
